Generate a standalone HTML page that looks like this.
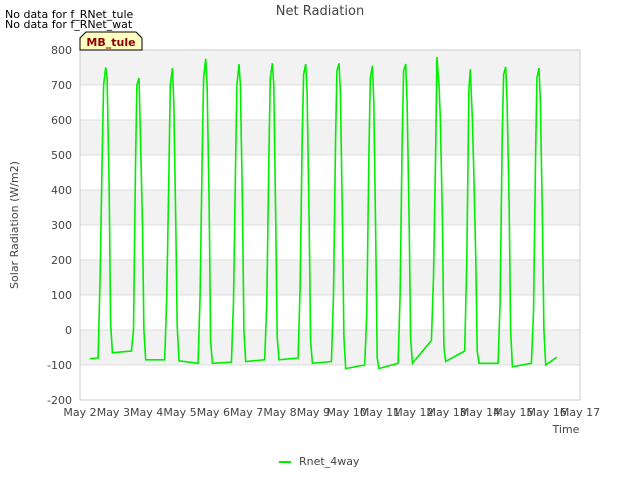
<!DOCTYPE html>
<html><head><meta charset="utf-8"><style>
body{margin:0;background:#fff;font-family:"Liberation Sans","DejaVu Sans",sans-serif}
svg text{font-family:"DejaVu Sans","Liberation Sans",sans-serif}
</style></head><body>
<svg width="640" height="480" viewBox="0 0 640 480">
<g id="bands"></g><g id="grid"></g>
<rect x="80" y="50" width="500" height="350" fill="none" stroke="#ccc"/>
<g id="axes"></g>
<path id="line" fill="none" stroke="#00ee00" stroke-width="1.6"/>
<text x="320" y="15" text-anchor="middle" font-size="13" fill="#444">Net Radiation</text>
<text x="5" y="18" font-size="11" fill="#000">No data for f_RNet_tule</text>
<text x="5" y="28" font-size="11" fill="#000">No data for f_RNet_wat</text>
<path d="M80,50 L80,38 L86,32 L136,32 L142,38 L142,50 Z" fill="#ffffc0" stroke="#000"/>
<text x="111" y="46" text-anchor="middle" font-size="11" font-weight="bold" fill="#8b0000">MB_tule</text>
<text transform="translate(18,225) rotate(-90)" text-anchor="middle" font-size="11" fill="#444">Solar Radiation (W/m2)</text>
<text x="566" y="433" text-anchor="middle" font-size="11" fill="#444">Time</text>
<line x1="279" y1="462" x2="291" y2="462" stroke="#00ee00" stroke-width="2"/>
<text x="299" y="465" font-size="11" fill="#444">Rnet_4way</text>
</svg>
<script>
const yTicks=[-200,-100,0,100,200,300,400,500,600,700,800];
const xLabels=["May 2","May 3","May 4","May 5","May 6","May 7","May 8","May 9","May 10","May 11","May 12","May 13","May 14","May 15","May 16","May 17"];
const hours=[13,14.5,16,17,18.5,19.5,21,22,23.3];
const dayValues=[
[-80,150,500,700,750,720,400,20,-65],
[-60,0,490,700,720,560,300,0,-85],
[-85,100,450,700,748,650,300,10,-88],
[-95,100,500,720,775,700,350,-30,-95],
[-92,80,480,700,760,700,350,0,-90],
[-85,80,500,720,762,700,300,-20,-85],
[-80,120,550,730,760,680,300,-30,-95],
[-90,100,550,740,762,680,300,-20,-110],
[-100,50,500,720,755,650,250,-80,-110],
[-95,100,550,740,760,650,300,-20,-95],
[-30,150,500,780,700,600,300,-50,-90],
[-60,200,690,745,600,450,200,-60,-95],
[-95,80,550,730,752,650,350,0,-105],
[-95,50,500,720,748,650,300,0,-100]];
const startPoint=[0.3,-82];
const endPoint=[14.3,-78];
const NS="http://www.w3.org/2000/svg";
const X=d=>80+d*500/15, Y=v=>330-v*0.35;
const bands=document.getElementById('bands'),grid=document.getElementById('grid'),axes=document.getElementById('axes');
for(let i=0;i<yTicks.length-1;i++){
 if(i%2==1){const r=document.createElementNS(NS,'rect');
 
 
 r.setAttribute('x',80);r.setAttribute('width',500);r.setAttribute('y',Y(yTicks[i+1]));r.setAttribute('height',Y(yTicks[i])-Y(yTicks[i+1]));r.setAttribute('fill','#f2f2f2');bands.appendChild(r);}
}
yTicks.forEach(v=>{
 const l=document.createElementNS(NS,'line');
 
 
 l.setAttribute('x1',80);l.setAttribute('x2',580);l.setAttribute('y1',Y(v));l.setAttribute('y2',Y(v));l.setAttribute('stroke','#ddd');grid.appendChild(l);
 const t=document.createElementNS(NS,'text');
 
 
 t.setAttribute('x',72);t.setAttribute('y',Y(v)+4);t.setAttribute('text-anchor','end');t.setAttribute('font-size','11');t.setAttribute('fill','#444');t.textContent=v;axes.appendChild(t);
});
xLabels.forEach((s,i)=>{
 const t=document.createElementNS(NS,'text');
 
 
 t.setAttribute('x',X(i));t.setAttribute('y',416);t.setAttribute('text-anchor','middle');t.setAttribute('font-size','11');t.setAttribute('fill','#444');t.textContent=s;axes.appendChild(t);
});
let pts=[startPoint];
dayValues.forEach((vals,d)=>vals.forEach((v,j)=>pts.push([d+hours[j]/24,v])));
pts.push(endPoint);
document.getElementById('line').setAttribute('d',pts.map((p,i)=>(i?'L':'M')+X(p[0]).toFixed(1)+','+Y(p[1]).toFixed(1)).join(' '));
</script>
</body></html>
